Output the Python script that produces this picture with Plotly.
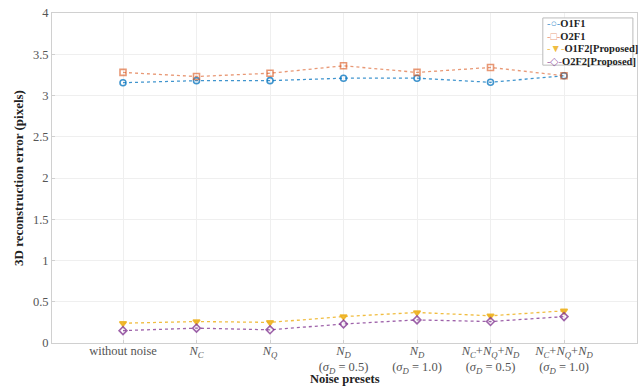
import plotly.graph_objects as go

categories = [
    "without noise",
    "<i>N<sub>C</sub></i>",
    "<i>N<sub>Q</sub></i>",
    "<i>N<sub>D</sub></i><br>(<i>σ<sub>D</sub></i> = 0.5)",
    "<i>N<sub>D</sub></i><br>(<i>σ<sub>D</sub></i> = 1.0)",
    "<i>N<sub>C</sub></i>+<i>N<sub>Q</sub></i>+<i>N<sub>D</sub></i><br>(<i>σ<sub>D</sub></i> = 0.5)",
    "<i>N<sub>C</sub></i>+<i>N<sub>Q</sub></i>+<i>N<sub>D</sub></i><br>(<i>σ<sub>D</sub></i> = 1.0)",
]
o1f1 = [3.155, 3.18, 3.18, 3.21, 3.21, 3.16, 3.24]
o2f1 = [3.28, 3.23, 3.27, 3.36, 3.28, 3.34, 3.24]
o1f2 = [0.24, 0.26, 0.25, 0.32, 0.37, 0.33, 0.39]
o2f2 = [0.15, 0.18, 0.16, 0.23, 0.28, 0.26, 0.32]
y_ticks = [0, 0.5, 1, 1.5, 2, 2.5, 3, 3.5, 4]
y_tick_text = ["0", "0.5", "1", "1.5", "2", "2.5", "3", "3.5", "4"]
series_names = ["O1F1", "O2F1", "O1F2[Proposed]", "O2F2[Proposed]"]

x = list(range(len(categories)))

styles = [
    ("rgba(0,114,189,0.75)", "circle-open", "○"),
    ("rgba(217,83,25,0.6)", "square-open", "□"),
    ("rgba(237,177,32,0.85)", "triangle-down", "▼"),
    ("rgba(126,47,142,0.75)", "diamond-open", "◇"),
]
values = [o1f1, o2f1, o1f2, o2f2]

fig = go.Figure()
for name, vals, (col, sym, glyph) in zip(series_names, values, styles):
    fig.add_trace(go.Scatter(
        x=x, y=vals, name=name, mode="lines+markers",
        line=dict(color=col, width=1.3, dash="dot"),
        marker=dict(symbol=sym, size=6, color=col, line=dict(color=col, width=1.6)),
        showlegend=False,
    ))

# compact MATLAB-like legend: box + one text row per series
fig.add_shape(
    type="rect", xref="paper", yref="paper", x0=0.839, x1=0.993, y0=0.842, y1=0.985,
    line=dict(color="#bbbbbb", width=1), fillcolor="white", layer="above",
)
row_y = [0.9667, 0.9294, 0.8921, 0.8545]
for name, (col, sym, glyph), ry in zip(series_names, styles, row_y):
    fig.add_annotation(
        xref="paper", yref="paper", x=0.843, y=ry, xanchor="left", yanchor="middle",
        text=f"<span style='color:{col}'>-{glyph}-</span><b>{name}</b>",
        showarrow=False, align="left",
        font=dict(family="Liberation Serif", size=10.5, color="#222222"),
    )

fig.add_annotation(
    xref="paper", yref="paper", x=0.5, y=-0.109, xanchor="center", yanchor="middle",
    text="<b>Noise presets</b>", showarrow=False,
    font=dict(family="Liberation Serif", size=12.5, color="#222222"),
)

axis_font = dict(family="Liberation Serif", size=12.5, color="#555555")

fig.update_layout(
    width=642, height=388,
    margin=dict(l=52, r=5, t=13, b=45),
    paper_bgcolor="white", plot_bgcolor="white",
    font=dict(family="Liberation Serif", color="#222222"),
    showlegend=False,
    xaxis=dict(
        tickmode="array", tickvals=x, ticktext=categories,
        range=[-0.966, 6.993], showgrid=True, gridcolor="#efefef", gridwidth=1,
        showline=True, linecolor="#d0d0d0", mirror=True,
        ticks="inside", ticklen=3, tickcolor="#d0d0d0",
        tickfont=axis_font, zeroline=False, automargin=False,
        ticklabelstandoff=-4, ticklabeloverflow="allow",
    ),
    yaxis=dict(
        tickmode="array", tickvals=y_ticks, ticktext=y_tick_text,
        range=[0, 4], showgrid=True, gridcolor="#efefef", gridwidth=1,
        showline=True, linecolor="#d0d0d0", mirror=True,
        ticks="inside", ticklen=3, tickcolor="#d0d0d0",
        tickfont=axis_font, zeroline=False, automargin=False,
        ticklabeloverflow="allow",
        title=dict(text="<b>3D reconstruction error (pixels)</b>", font=dict(family="Liberation Serif", size=13, color="#222222"), standoff=6),
    ),
)

fig.write_html(
    "out.html",
    config={"displayModeBar": False},
    post_script="document.body.style.margin='0';document.body.style.overflow='hidden';",
)
